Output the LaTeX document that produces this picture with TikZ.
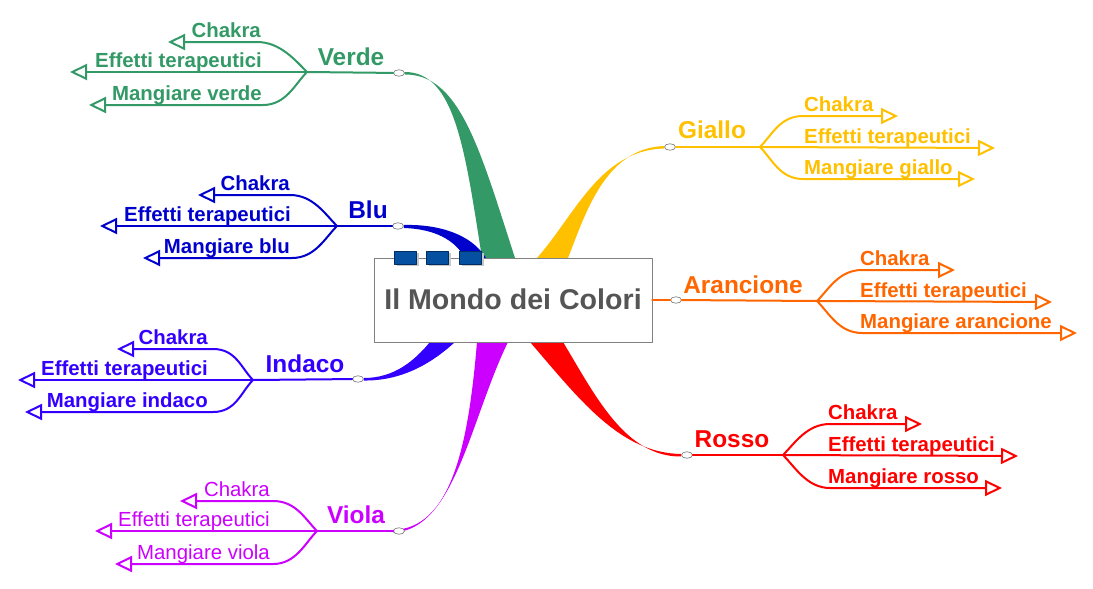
\documentclass[tikz,border=0pt]{standalone}
\usepackage{fontspec}
\setmainfont{Liberation Sans}
\usetikzlibrary{arrows.meta,shapes.geometric}
\pgfdeclarelayer{sfondo}
\pgfsetlayers{sfondo,main}
\definecolor{verde}{RGB}{51,153,102}
\definecolor{blu}{RGB}{0,0,204}
\definecolor{indaco}{RGB}{51,0,255}
\definecolor{viola}{RGB}{204,0,255}
\definecolor{giallo}{RGB}{255,192,0}
\definecolor{arancione}{RGB}{255,102,0}
\definecolor{rosso}{RGB}{255,0,0}
\definecolor{titolo}{RGB}{85,85,85}
\definecolor{tasto}{RGB}{5,80,160}
\definecolor{tastobordo}{RGB}{0,45,100}

\begin{document}
\begin{tikzpicture}[x=1pt,y=-1pt,line cap=round,line join=round,
  ramo/.style={line width=2pt},
  freccia/.style={-{Triangle[open,length=17pt,width=16pt]}},
  ovale/.style={ellipse,draw=gray,fill=white,line width=0.7pt,minimum width=11pt,minimum height=6.5pt,inner sep=0pt},
  nome/.style={font=\fontsize{24.4}{28}\selectfont\bfseries,anchor=base,inner sep=0pt},
  vocesx/.style={font=\fontsize{20.4}{24}\selectfont\bfseries,anchor=base east,inner sep=0pt},
  vocedx/.style={font=\fontsize{20.4}{24}\selectfont\bfseries,anchor=base west,inner sep=0pt},
  vocesottile/.style={font=\fontsize{20.4}{24}\selectfont,anchor=base east,inner sep=0pt},
  tasto/.style={draw=tastobordo,fill=tasto,line width=0.6pt,minimum width=22pt,minimum height=13pt,inner sep=0pt},
  ombra/.style={fill=black!22,minimum width=22pt,minimum height=13pt,inner sep=0pt}]
\useasboundingbox (0,0) rectangle (1093,589);

\node[draw=gray,fill=white,line width=0.8pt,minimum width=278pt,minimum height=84pt,text=titolo,font=\fontsize{28.6}{32}\selectfont\bfseries] (centro) at (513,300) {\raisebox{2pt}{Il Mondo dei Colori}};
\node[ombra] (om1) at (408,259.5) {};
\node[ombra] (om2) at (440,259.5) {};
\node[ombra] (om3) at (473,259.5) {};
\node[tasto] (t1) at (405,257.5) {};
\node[tasto] (t2) at (437,257.5) {};
\node[tasto] (t3) at (470,257.5) {};

\node[ovale] (ovVerde) at (399,73) {};
\node[ovale] (ovBlu) at (398,226) {};
\node[ovale] (ovIndaco) at (358,379) {};
\node[ovale] (ovViola) at (399,531) {};
\node[ovale] (ovGiallo) at (670,147) {};
\node[ovale] (ovArancione) at (676,300) {};
\node[ovale] (ovRosso) at (687,455) {};

% rami dal centro
\begin{pgfonlayer}{sfondo}
\fill[verde] ([yshift=1pt]ovVerde.east) .. controls (455,72) and (465,150) .. (482,258) -- (490,300) -- (520,300) -- (515,258) .. controls (480,150) and (460,74) .. ([yshift=-1.5pt]ovVerde.east) -- cycle;
\fill[blu] ([yshift=1pt]ovBlu.east) .. controls (440,224) and (472,235) .. (486,258) -- (490,290) -- (470,290) -- (465,258) .. controls (455,240) and (435,229) .. ([yshift=-2pt]ovBlu.east) -- cycle;
\fill[indaco] ([yshift=1pt]ovIndaco.east) .. controls (395,378) and (415,360) .. (430,342) -- (445,320) -- (470,320) -- (455,342) .. controls (430,365) and (400,381) .. ([yshift=-1.5pt]ovIndaco.east) -- cycle;
\fill[viola] (480,310) -- (477,342) .. controls (468,450) and (450,528) .. ([yshift=1pt]ovViola.west) -- ([yshift=-1.5pt]ovViola.west) .. controls (455,530) and (470,420) .. (508,342) -- (512,310) -- cycle;
\fill[giallo] ([yshift=1pt]ovGiallo.west) .. controls (605,148) and (585,215) .. (568,258) -- (560,290) -- (530,290) -- (537,258) .. controls (575,215) and (600,150) .. ([yshift=-1.5pt]ovGiallo.west) -- cycle;
\fill[rosso] (525,310) -- (530,342) .. controls (580,400) and (620,453) .. ([yshift=1pt]ovRosso.west) -- ([yshift=-1.5pt]ovRosso.west) .. controls (625,457) and (595,395) .. (563,342) -- (560,310) -- cycle;
\end{pgfonlayer}
\draw[arancione,line width=2.5pt] (centro.east) -- (ovArancione);

% Verde
\coordinate (bivVerde) at (307,72);
\coordinate (chVerdeC) at (257,42);
\coordinate (chVerdeP) at (168,42);
\coordinate (efVerdeP) at (70,72);
\coordinate (mgVerdeC) at (263,105);
\coordinate (mgVerdeP) at (89,105);
\node[nome,verde] (nomeVerde) at (351,65) {Verde};
\node[vocesx,verde] (chVerde) at (261,37) {Chakra};
\node[vocesx,verde] (efVerde) at (262,67) {Effetti terapeutici};
\node[vocesx,verde] (mgVerde) at (262,100) {Mangiare verde};
\draw[ramo,verde] (bivVerde) -- (ovVerde);
\draw[ramo,verde,freccia] (bivVerde) .. controls +(-12,-12) and +(23,0) .. (chVerdeC) -- (chVerdeP);
\draw[ramo,verde,freccia] (bivVerde) -- (efVerdeP);
\draw[ramo,verde,freccia] (bivVerde) .. controls +(-12,12) and +(23,0) .. (mgVerdeC) -- (mgVerdeP);

% Blu
\coordinate (bivBlu) at (337,226);
\coordinate (chBluC) at (290,195);
\coordinate (chBluP) at (198,195);
\coordinate (efBluP) at (100,226);
\coordinate (mgBluC) at (292,258);
\coordinate (mgBluP) at (143,258);
\node[nome,blu] (nomeBlu) at (368,218) {Blu};
\node[vocesx,blu] (chBlu) at (290,190) {Chakra};
\node[vocesx,blu] (efBlu) at (291,221) {Effetti terapeutici};
\node[vocesx,blu] (mgBlu) at (290,253) {Mangiare blu};
\draw[ramo,blu] (bivBlu) -- (ovBlu);
\draw[ramo,blu,freccia] (bivBlu) .. controls +(-12,-12) and +(23,0) .. (chBluC) -- (chBluP);
\draw[ramo,blu,freccia] (bivBlu) -- (efBluP);
\draw[ramo,blu,freccia] (bivBlu) .. controls +(-12,12) and +(23,0) .. (mgBluC) -- (mgBluP);

% Indaco
\coordinate (bivIndaco) at (253,380);
\coordinate (chIndacoC) at (213,349);
\coordinate (chIndacoP) at (117,349);
\coordinate (efIndacoP) at (18,380);
\coordinate (mgIndacoC) at (213,412);
\coordinate (mgIndacoP) at (25,412);
\node[nome,indaco] (nomeIndaco) at (305,372) {Indaco};
\node[vocesx,indaco] (chIndaco) at (208,344) {Chakra};
\node[vocesx,indaco] (efIndaco) at (208,375) {Effetti terapeutici};
\node[vocesx,indaco] (mgIndaco) at (208,407) {Mangiare indaco};
\draw[ramo,indaco] (bivIndaco) -- (ovIndaco);
\draw[ramo,indaco,freccia] (bivIndaco) .. controls +(-12,-12) and +(23,0) .. (chIndacoC) -- (chIndacoP);
\draw[ramo,indaco,freccia] (bivIndaco) -- (efIndacoP);
\draw[ramo,indaco,freccia] (bivIndaco) .. controls +(-12,12) and +(23,0) .. (mgIndacoC) -- (mgIndacoP);

% Viola
\coordinate (bivViola) at (317,531);
\coordinate (chViolaC) at (273,501);
\coordinate (chViolaP) at (180,501);
\coordinate (efViolaP) at (95,531);
\coordinate (mgViolaC) at (273,564);
\coordinate (mgViolaP) at (115,564);
\node[nome,viola] (nomeViola) at (356,523) {Viola};
\node[vocesottile,viola] (chViola) at (270,496) {Chakra};
\node[vocesottile,viola] (efViola) at (270,526) {Effetti terapeutici};
\node[vocesottile,viola] (mgViola) at (270,559) {Mangiare viola};
\draw[ramo,viola] (bivViola) -- (ovViola);
\draw[ramo,viola,freccia] (bivViola) .. controls +(-12,-12) and +(23,0) .. (chViolaC) -- (chViolaP);
\draw[ramo,viola,freccia] (bivViola) -- (efViolaP);
\draw[ramo,viola,freccia] (bivViola) .. controls +(-12,12) and +(23,0) .. (mgViolaC) -- (mgViolaP);

% Giallo
\coordinate (bivGiallo) at (760,147);
\coordinate (chGialloC) at (803,116);
\coordinate (chGialloP) at (898,116);
\coordinate (efGialloP) at (995,148);
\coordinate (mgGialloC) at (803,179);
\coordinate (mgGialloP) at (975,179);
\node[nome,giallo] (nomeGiallo) at (712,138) {Giallo};
\node[vocedx,giallo] (chGiallo) at (804,111) {Chakra};
\node[vocedx,giallo] (efGiallo) at (804,143) {Effetti terapeutici};
\node[vocedx,giallo] (mgGiallo) at (804,174) {Mangiare giallo};
\draw[ramo,giallo] (ovGiallo) -- (bivGiallo);
\draw[ramo,giallo,freccia] (bivGiallo) .. controls +(12,-12) and +(-23,0) .. (chGialloC) -- (chGialloP);
\draw[ramo,giallo,freccia] (bivGiallo) -- (efGialloP);
\draw[ramo,giallo,freccia] (bivGiallo) .. controls +(12,12) and +(-23,0) .. (mgGialloC) -- (mgGialloP);

% Arancione
\coordinate (bivArancione) at (817,301);
\coordinate (chArancioneC) at (862,270);
\coordinate (chArancioneP) at (955,270);
\coordinate (efArancioneP) at (1052,302);
\coordinate (mgArancioneC) at (862,333);
\coordinate (mgArancioneP) at (1077,333);
\node[nome,arancione] (nomeArancione) at (743,293) {Arancione};
\node[vocedx,arancione] (chArancione) at (860,265) {Chakra};
\node[vocedx,arancione] (efArancione) at (860,297) {Effetti terapeutici};
\node[vocedx,arancione] (mgArancione) at (860,328) {Mangiare arancione};
\draw[ramo,arancione] (ovArancione) -- (bivArancione);
\draw[ramo,arancione,freccia] (bivArancione) .. controls +(12,-12) and +(-23,0) .. (chArancioneC) -- (chArancioneP);
\draw[ramo,arancione,freccia] (bivArancione) -- (efArancioneP);
\draw[ramo,arancione,freccia] (bivArancione) .. controls +(12,12) and +(-23,0) .. (mgArancioneC) -- (mgArancioneP);

% Rosso
\coordinate (bivRosso) at (783,455);
\coordinate (chRossoC) at (830,424);
\coordinate (chRossoP) at (922,424);
\coordinate (efRossoP) at (1018,456);
\coordinate (mgRossoC) at (830,488);
\coordinate (mgRossoP) at (1002,488);
\node[nome,rosso] (nomeRosso) at (732,447) {Rosso};
\node[vocedx,rosso] (chRosso) at (828,419) {Chakra};
\node[vocedx,rosso] (efRosso) at (828,451) {Effetti terapeutici};
\node[vocedx,rosso] (mgRosso) at (828,483) {Mangiare rosso};
\draw[ramo,rosso] (ovRosso) -- (bivRosso);
\draw[ramo,rosso,freccia] (bivRosso) .. controls +(12,-12) and +(-23,0) .. (chRossoC) -- (chRossoP);
\draw[ramo,rosso,freccia] (bivRosso) -- (efRossoP);
\draw[ramo,rosso,freccia] (bivRosso) .. controls +(12,12) and +(-23,0) .. (mgRossoC) -- (mgRossoP);
\end{tikzpicture}
\end{document}
